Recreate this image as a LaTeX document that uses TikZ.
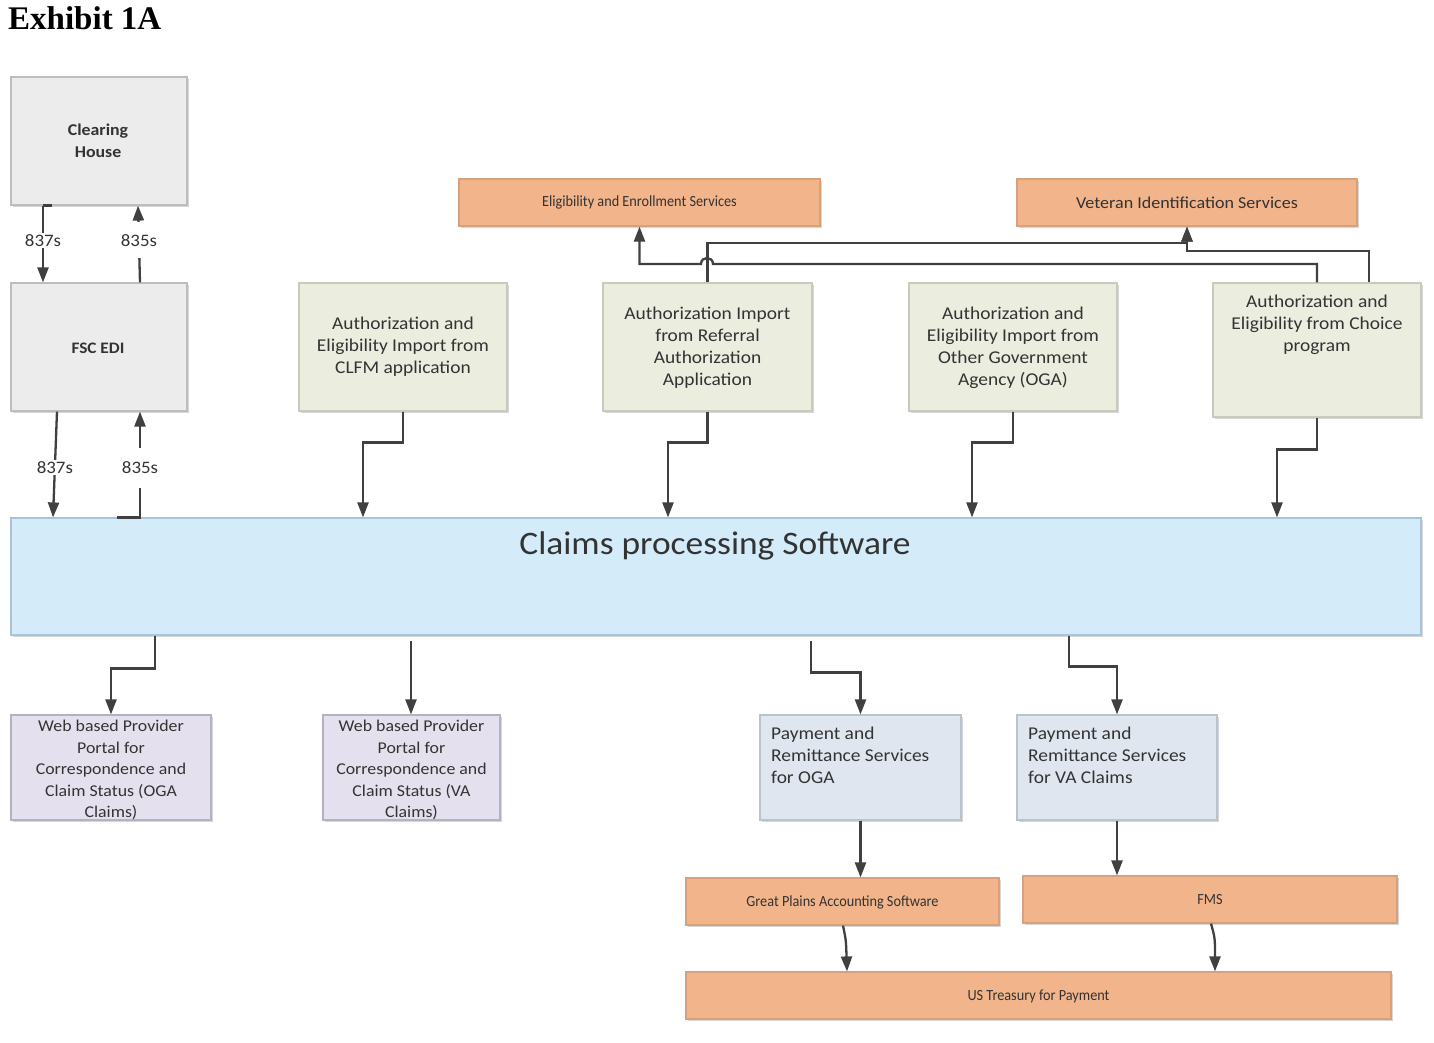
\documentclass[tikz,border=0pt]{standalone}
\usepackage{fontspec}
\setmainfont[FakeStretch=1.08]{Carlito}
\newfontfamily\titlefont{Liberation Serif}
\newfontfamily\narrowfont[FakeStretch=0.92]{Carlito}
\usetikzlibrary{arrows.meta,shadows,calc}
\definecolor{txt}{HTML}{333333}
\definecolor{ln}{HTML}{404040}
\definecolor{grayf}{HTML}{ECECEC}
\definecolor{grayd}{HTML}{BDBDBD}
\definecolor{greenf}{HTML}{EBEDDF}
\definecolor{greend}{HTML}{C8CABB}
\definecolor{orangef}{HTML}{F1B48B}
\definecolor{oranged}{HTML}{D9A07C}
\definecolor{bluef}{HTML}{D4EBFA}
\definecolor{blued}{HTML}{A7C4D8}
\definecolor{lavf}{HTML}{E5E0EE}
\definecolor{lavd}{HTML}{B6B1C2}
\definecolor{payf}{HTML}{DFE6F0}
\definecolor{payd}{HTML}{B9C2CD}
\tikzset{
  shbox/.style={draw, line width=1.2pt, inner sep=0pt, text=txt,
    drop shadow={shadow xshift=2pt, shadow yshift=-2pt, fill=black!40, opacity=0.4}},
  graybox/.style={shbox, fill=grayf, draw=grayd},
  greenbox/.style={shbox, fill=greenf, draw=greend},
  orangebox/.style={shbox, fill=orangef, draw=oranged},
  bluebox/.style={shbox, fill=bluef, draw=blued},
  lavbox/.style={shbox, fill=lavf, draw=lavd},
  paybox/.style={shbox, fill=payf, draw=payd},
  boxtext/.style={text=txt, align=center, font=\fontsize{18}{22}\selectfont, inner sep=0pt},
  smalltext/.style={boxtext, font=\narrowfont\fontsize{15.5}{18}\selectfont},
  arr/.style={draw=ln, line width=2.3pt, -{Triangle[length=15pt,width=11pt]}},
  plainln/.style={draw=ln, line width=2.3pt},
  lbl/.style={fill=white, text=txt, font=\fontsize{17.5}{20}\selectfont, inner sep=1.5pt},
}
\begin{document}
\begin{tikzpicture}[x=1pt,y=-1pt]
\useasboundingbox[fill=white] (0,0) rectangle (1434,1042);

\node[anchor=north west, inner sep=0pt, font=\titlefont\bfseries\fontsize{33}{36}\selectfont] (title) at (8,6) {Exhibit 1A};

% left column
\node[graybox, minimum width=176pt, minimum height=128pt] (ch) at (99,141) {};
\node[boxtext, font=\bfseries\fontsize{16.5}{22}\selectfont] (cht) at (98,141) {Clearing\\House};
\node[graybox, minimum width=176pt, minimum height=128pt] (fsc) at (99,347) {};
\node[boxtext, font=\bfseries\fontsize{16}{22}\selectfont] (fsct) at (98,348) {FSC EDI};

% import boxes
\node[greenbox, minimum width=208pt, minimum height=128pt] (clfm) at (403,347) {};
\node[boxtext] (clfmt) at (403,347) {Authorization and\\Eligibility Import from\\CLFM application};
\node[greenbox, minimum width=209pt, minimum height=128pt] (ref) at (707.5,347) {};
\node[boxtext] (reft) at (707.5,348) {Authorization Import\\from Referral\\Authorization\\Application};
\node[greenbox, minimum width=208pt, minimum height=128pt] (oga) at (1013,347) {};
\node[boxtext] (ogat) at (1013,348) {Authorization and\\Eligibility Import from\\Other Government\\Agency (OGA)};
\node[greenbox, minimum width=208pt, minimum height=134pt] (choice) at (1317,350) {};
\node[boxtext] (choicet) at (1317,325) {Authorization and\\Eligibility from Choice\\program};

% orange services top
\node[orangebox, minimum width=361pt, minimum height=47pt] (ees) at (639.5,202.5) {};
\node[smalltext] (eest) at (639.5,202.5) {Eligibility and Enrollment Services};
\node[orangebox, minimum width=340pt, minimum height=47pt] (vis) at (1187,202.5) {};
\node[boxtext, font=\fontsize{16.7}{20}\selectfont] (vist) at (1187,202.5) {Veteran Identification Services};

% claims
\node[bluebox, minimum width=1410pt, minimum height=117pt] (claims) at (716,576.5) {};
\node[boxtext, font=\fontsize{32.8}{36}\selectfont, text=black!80] (claimst) at (715,546) {Claims processing Software};

% bottom boxes
\node[lavbox, minimum width=200pt, minimum height=105pt] (woga) at (111,767.5) {};
\node[boxtext, font=\fontsize{16.5}{21.5}\selectfont] (wogat) at (111,770) {Web based Provider\\Portal for\\Correspondence and\\Claim Status (OGA\\Claims)};
\node[lavbox, minimum width=177pt, minimum height=105pt] (wva) at (411.5,767.5) {};
\node[boxtext, font=\fontsize{16.5}{21.5}\selectfont] (wvat) at (411.5,770) {Web based Provider\\Portal for\\Correspondence and\\Claim Status (VA\\Claims)};
\node[paybox, minimum width=201pt, minimum height=105pt] (poga) at (860.5,767.5) {};
\node[boxtext, align=left, anchor=north west] (pogat) at (771,727) {Payment and\\Remittance Services\\for OGA};
\node[paybox, minimum width=200pt, minimum height=105pt] (pva) at (1117,767.5) {};
\node[boxtext, align=left, anchor=north west] (pvat) at (1028,727) {Payment and\\Remittance Services\\for VA Claims};

\node[orangebox, minimum width=313pt, minimum height=47pt] (gp) at (842.5,901.5) {};
\node[smalltext] (gpt) at (842.5,902) {Great Plains Accounting Software};
\node[orangebox, minimum width=374pt, minimum height=47pt] (fms) at (1210,899.5) {};
\node[smalltext] (fmst) at (1210,900) {FMS};
\node[orangebox, minimum width=705pt, minimum height=47pt] (ust) at (1038.5,995.5) {};
\node[smalltext] (ustt) at (1038.5,996) {US Treasury for Payment};

% clearing house <-> FSC EDI
\draw[plainln] ([xshift=9pt]ch.south west -| 43,0) -- ([xshift=0pt]ch.south west -| 43,0);
\draw[arr] (ch.south west -| 43,0) -- node[lbl, pos=0.45] (l1) {837s} (fsc.north west -| 43,0);
\draw[arr] (fsc.north west -| 140,0) -- node[lbl, minimum height=36pt, pos=0.55] (l2) {835s} (ch.south west -| 138,0);
% FSC EDI <-> claims
\draw[arr] (fsc.south west -| 57,0) -- node[lbl, pos=0.53] (l3) {837s} (claims.north west -| 53,0);
\draw[plainln] (claims.north west -| 117,0) -- (claims.north west -| 141,0);
\draw[arr] (claims.north west -| 140,0) -- node[lbl, minimum height=40pt, pos=0.47] (l4) {835s} (fsc.south west -| 140,0);

% import boxes -> claims
\draw[arr] (clfm.south) -- ++(0,31) -| (claims.north west -| 363,0);
\draw[arr] (ref.south) -- ++(0,31) -| (claims.north west -| 668,0);
\draw[arr] (oga.south) -- ++(0,31) -| (claims.north west -| 972,0);
\draw[arr] (choice.south) -- ++(0,32) -| (claims.north west -| 1277,0);

% top connectors
\coordinate (vj1) at (1187,243);
\coordinate (vj2) at (1187,251);
\draw[arr] (ref.north) |- (vj1) -- (vis.south);
\draw[arr] (choice.north west -| 1369,0) |- (vj2) -- (vis.south);
\coordinate (hopr) at (713,264);
\coordinate (hopl) at (701,264);
\draw[arr] (choice.north) -- (1317,264) -- (hopr) .. controls (713,256) and (701,256) .. (hopl) -| (ees.south);

% claims -> bottom
\draw[arr] (claims.south west -| 155,0) -- ++(0,33) -| (woga.north);
\draw[arr] ([yshift=-5pt]claims.south west -| 411,0) -- (wva.north -| 411,0);
\draw[arr] ([yshift=-5pt]claims.south west -| 811,0) -- ++(0,32) -| (poga.north);
\draw[arr] (claims.south west -| 1069,0) -- ++(0,31) -| (pva.north);
\draw[arr] (poga.south) -- (gp.north -| poga.south);
\draw[arr] (pva.south) -- (fms.north -| pva.south);
\draw[arr] (gp.south west -| 843,0) .. controls (846,940) .. (ust.north west -| 847,0);
\draw[arr] (fms.south west -| 1211,0) .. controls (1215,938) .. (ust.north west -| 1215,0);
\end{tikzpicture}
\end{document}
